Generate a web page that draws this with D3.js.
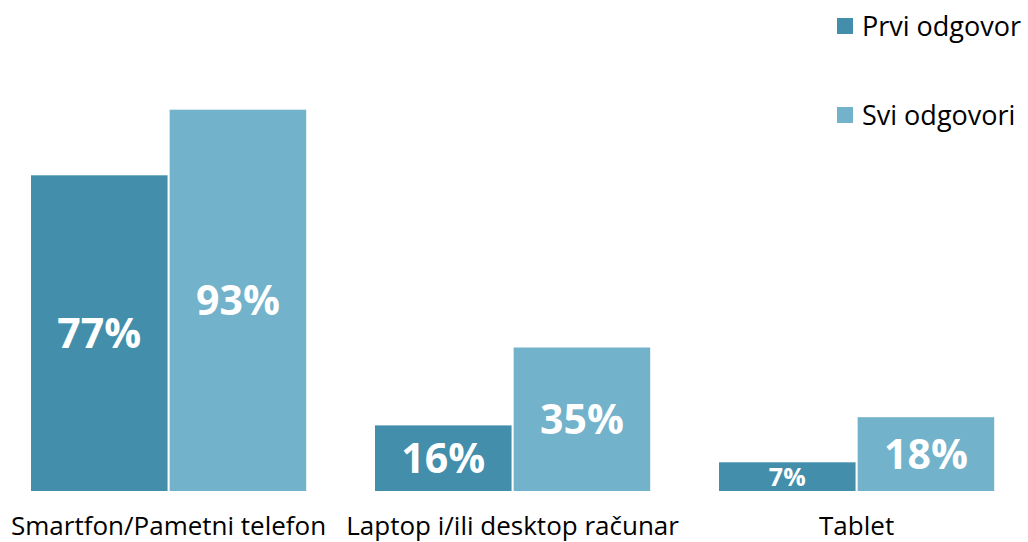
<!DOCTYPE html>
<html>
<head>
<meta charset="utf-8">
<script src="https://cdn.jsdelivr.net/npm/d3@7"></script>
<style>
  body { margin: 0; background: #fff; }
  svg { display: block; }
</style>
</head>
<body>
<div id="chart"></div>
<script>
const categories = ["Smartfon/Pametni telefon", "Laptop i/ili desktop računar", "Tablet"];
const seriesNames = ["Prvi odgovor", "Svi odgovori"];
const prviValues = [77, 16, 7];
const sviValues = [93, 35, 18];
const colors = ["#428EAB", "#72B2CA"];

function main() {
    const canvasWidth = 1028;
    const canvasHeight = 542;
    const baseline = 491;

    const svg = d3.select("#chart").append("svg")
        .attr("width", canvasWidth)
        .attr("height", canvasHeight);

    const data = categories.map((c, i) => ({ category: c, values: [prviValues[i], sviValues[i]] }));

    const xScale = d3.scaleBand()
        .domain(categories)
        .range([-3.4, 1028.6])
        .paddingInner(0.2)
        .paddingOuter(0.1);

    const xInner = d3.scaleBand()
        .domain(seriesNames)
        .range([0, xScale.bandwidth()])
        .paddingInner(0.015);

    const yScale = d3.scaleLinear().domain([0, 100]).range([baseline, 81]);

    const groups = svg.selectAll(".group")
        .data(data)
        .enter()
        .append("g")
        .attr("class", "group")
        .attr("transform", d => "translate(" + xScale(d.category) + ",0)");

    const bars = groups.selectAll(".bar")
        .data(d => d.values.map((v, j) => ({ series: seriesNames[j], value: v, idx: j })))
        .enter();

    bars.append("rect")
        .attr("class", "bar")
        .attr("x", d => xInner(d.series))
        .attr("y", d => yScale(d.value))
        .attr("width", xInner.bandwidth())
        .attr("height", d => baseline - yScale(d.value))
        .style("fill", d => colors[d.idx]);

    bars.append("text")
        .attr("x", d => xInner(d.series) + xInner.bandwidth() / 2)
        .attr("y", d => (yScale(d.value) + baseline) / 2)
        .attr("dy", "0.36em")
        .attr("text-anchor", "middle")
        .attr("font-family", "'Open Sans', sans-serif")
        .attr("font-weight", "bold")
        .attr("font-size", d => (baseline - yScale(d.value) < 40 ? "25px" : "41px"))
        .attr("fill", "white")
        .text(d => d.value + "%");

    // category labels
    const xAxis = svg.append("g")
        .attr("transform", "translate(0," + baseline + ")")
        .call(d3.axisBottom(xScale).tickSize(0).tickPadding(0));
    xAxis.select(".domain").remove();
    xAxis.selectAll("text")
        .attr("y", 44)
        .attr("dy", 0)
        .attr("font-family", "'Open Sans', sans-serif")
        .attr("font-size", "26px")
        .attr("fill", "#000");

    // legend
    const legend = svg.selectAll(".legend")
        .data(seriesNames)
        .enter()
        .append("g")
        .attr("class", "legend")
        .attr("transform", (d, i) => "translate(837," + (18 + i * 89) + ")");

    legend.append("rect")
        .attr("width", 16)
        .attr("height", 16)
        .style("fill", (d, i) => colors[i]);

    legend.append("text")
        .attr("x", 25)
        .attr("y", 18)
        .attr("font-family", "'Open Sans', sans-serif")
        .attr("font-size", "27px")
        .attr("fill", "#000")
        .text(d => d);
}
main();
</script>
</body>
</html>
